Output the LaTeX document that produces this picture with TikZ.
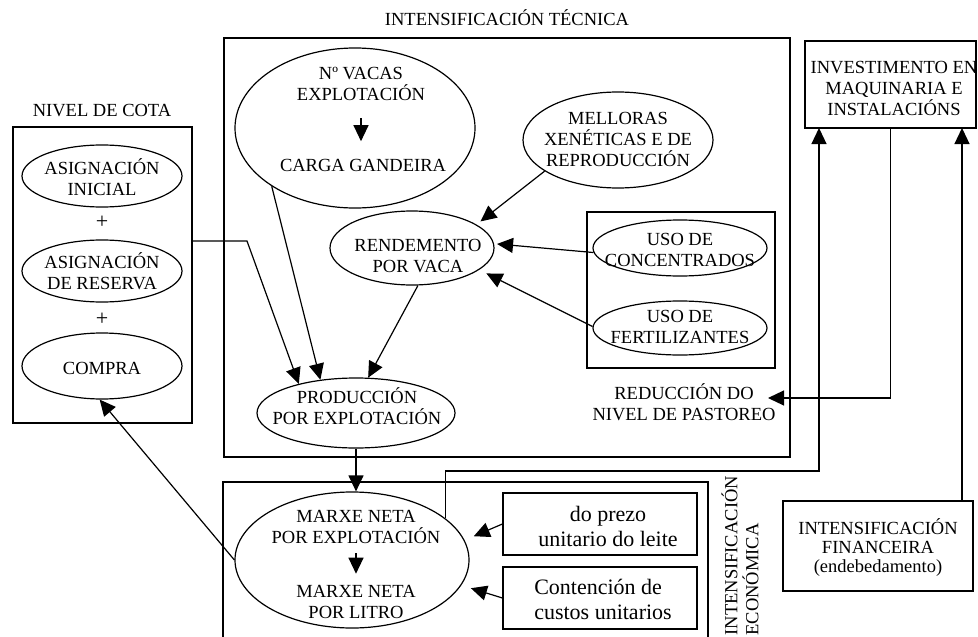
\documentclass[tikz,border=0pt]{standalone}
\usepackage{fontspec}
\setmainfont{Liberation Serif}
\usetikzlibrary{shapes.geometric,arrows.meta}
\begin{document}
\begin{tikzpicture}[x=1pt,y=-1pt, line width=1.2pt,
  box/.style={draw, rectangle, inner sep=0pt},
  ell/.style={draw, ellipse, inner sep=0pt},
  txt/.style={align=center, inner sep=0pt, font=\fontsize{18.5}{21}\selectfont},
  btxt/.style={inner sep=0pt, font=\fontsize{22}{25}\selectfont},
  arr/.style={-{Triangle[length=16pt,width=15pt]}}]
\useasboundingbox (0,0) rectangle (978,637);
% technical intensification
\node[txt] (ttech) at (507,18) {INTENSIFICACIÓN TÉCNICA};
\node[box, minimum width=566, minimum height=419] (tech) at (507,247.5) {};
% investment
\node[box, minimum width=171, minimum height=87] (inv) at (890.5,84.5) {};
\node[txt] (invT) at (894,88) {INVESTIMENTO EN\\MAQUINARIA E\\INSTALACIÓNS};
% quota level
\node[txt] (nivel) at (102,111) {NIVEL DE COTA};
\node[box, minimum width=179, minimum height=296] (cota) at (102.5,275) {};
\node[ell, minimum width=160, minimum height=62] (ini) at (102,176) {};
\node[txt] (iniT) at (102,177) {ASIGNACIÓN\\INICIAL};
\node[txt, font=\fontsize{22}{25}\selectfont] (p1) at (102,222) {+};
\node[ell, minimum width=160, minimum height=62] (res) at (102,271) {};
\node[txt] (resT) at (102,271) {ASIGNACIÓN\\DE RESERVA};
\node[txt, font=\fontsize{22}{25}\selectfont] (p2) at (102,319) {+};
\node[ell, minimum width=160, minimum height=66] (comp) at (102,366) {};
\node[txt] (compT) at (102,368) {COMPRA};
% cows
\node[ell, minimum width=240, minimum height=160] (vacas) at (355,128) {};
\node[txt] (vt) at (361,84) {Nº VACAS\\EXPLOTACIÓN};
\node[txt] (vb) at (363,165) {CARGA GANDEIRA};
\draw[arr, shorten <=17pt, shorten >=17pt] (vt.south) -- (vt.south |- vb.north);
% genetics
\node[ell, minimum width=190, minimum height=96] (mell) at (618,140) {};
\node[txt] (mellT) at (618,139) {MELLORAS\\XENÉTICAS E DE\\REPRODUCCIÓN};
% yield per cow
\node[ell, minimum width=164, minimum height=74] (rend) at (412,248) {};
\node[txt] (rendT) at (418,256) {RENDEMENTO\\POR VACA};
% inputs
\node[box, minimum width=188, minimum height=156] (uso) at (681,290) {};
\node[ell, minimum width=174, minimum height=56] (conc) at (680,248) {};
\node[txt] (concT) at (680,250) {USO DE\\CONCENTRADOS};
\node[ell, minimum width=174, minimum height=54] (fert) at (680,328) {};
\node[txt] (fertT) at (680,327) {USO DE\\FERTILIZANTES};
\node[txt] (red) at (684,402) {REDUCCIÓN DO\\NIVEL DE PASTOREO};
\coordinate (redtip) at (768,398);
% production
\node[ell, minimum width=198, minimum height=70] (prod) at (356,413) {};
\node[txt] (prodT) at (357,406) {PRODUCCIÓN\\POR EXPLOTACIÓN};
% economic
\draw (223,645) -- (223,482) -- (708,482) -- (708,645);
\node[ell, minimum width=234, minimum height=136] (marxe) at (352,560) {};
\node[txt] (mt) at (356,527) {MARXE NETA\\POR EXPLOTACIÓN};
\node[txt] (mb) at (356,602) {MARXE NETA\\POR LITRO};
\draw[arr, shorten <=9pt, shorten >=11pt] (mt.south) -- (mt.south |- mb.north);
\node[box, minimum width=194, minimum height=62] (b1) at (600,524) {};
\node[btxt, align=center] (b1T) at (608,526) {do prezo\\unitario do leite};
\node[box, minimum width=194, minimum height=62] (b2) at (600,598) {};
\node[btxt, align=left] (b2T) at (603,599) {Contención de\\custos unitarios};
\node[txt, rotate=90, anchor=west, align=left] (econT) at (740,636) {INTENSIFICACIÓN\\ECONÓMICA};
% financial
\node[box, minimum width=190, minimum height=90] (fin) at (878,546) {};
\node[txt, font=\fontsize{18.5}{19}\selectfont] (finT) at (878,548) {INTENSIFICACIÓN\\FINANCEIRA\\(endebedamento)};
\coordinate (inva) at (819,128);
\coordinate (invb) at (962,128);
% connectors
\draw[arr, shorten >=5pt] (mell.203) -- (rend.20);
\draw[arr, shorten >=3pt] (conc.183) -- (rend.3);
\draw[arr, shorten >=8pt] (fert.179) -- (rend.342);
\draw[arr] (vacas.215) -- (prod.137);
\draw[arr] (rend.279) -- (prod.71);
\draw[arr] (cota.east |- 0,241) -- (247,241) -- (prod.153);
\draw[arr] (prod.south) -- (prod.south |- marxe.north);
\draw[arr] (marxe.180) -- (comp.266);
\draw[arr, shorten >=10pt] (b1.west) -- (marxe.10);
\draw[arr, shorten >=10pt] (b2.west) -- (marxe.347);
\draw[arr] (marxe.24) |- (inva |- 0,471) -- (inva);
\draw[arr] (fin.north -| invb) -- (invb);
\draw[arr] (inv.south) |- (redtip);
\end{tikzpicture}
\end{document}
